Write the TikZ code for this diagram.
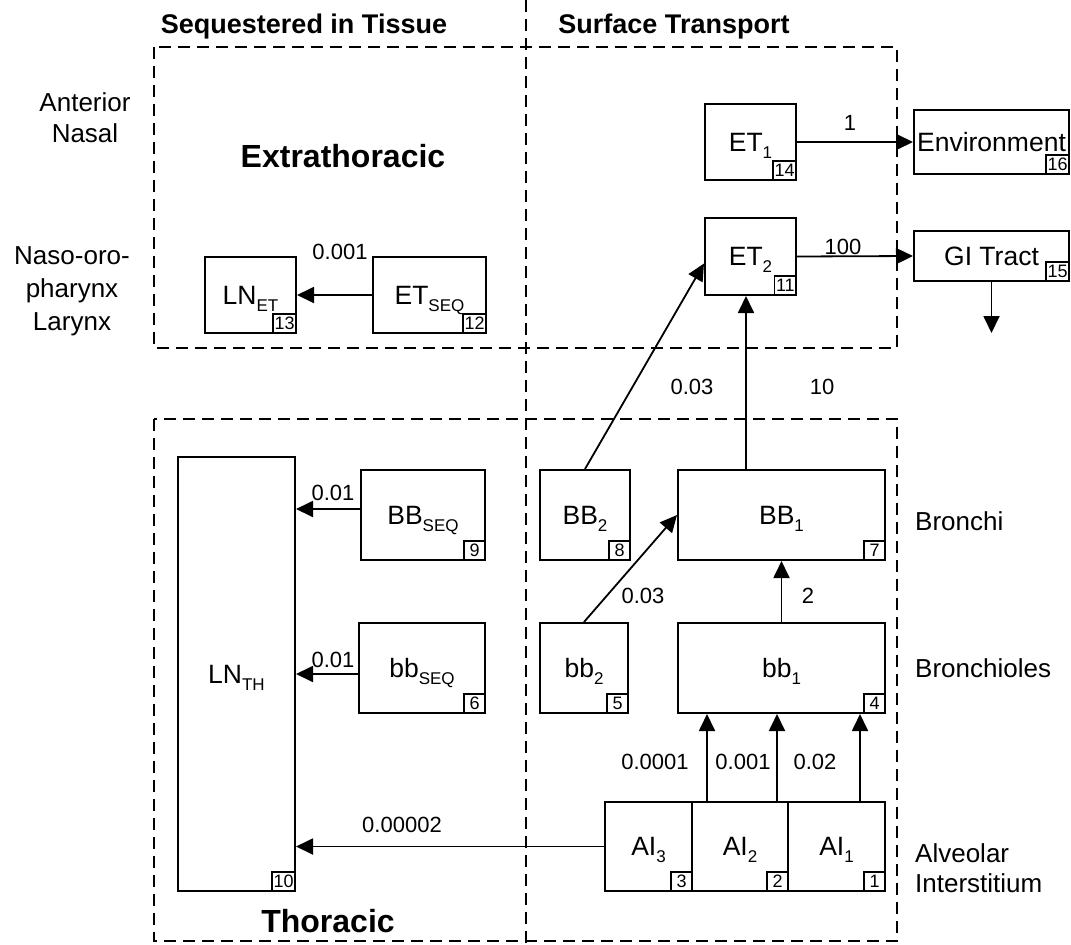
\documentclass[tikz,border=0pt]{standalone}
\usepackage{fontspec}
\setmainfont{Liberation Sans}
\usetikzlibrary{arrows.meta,calc}
\newcommand{\sbs}[1]{\raisebox{-7pt}[0pt][0pt]{\fontsize{17}{17}\selectfont #1}}
\begin{document}
\begin{tikzpicture}[x=1pt,y=-1pt,
  box/.style={draw, line width=2pt, inner sep=0pt, font=\fontsize{26.5}{30}\selectfont},
  tag/.style={draw, line width=1.6pt, fill=white, inner xsep=1.5pt, inner ysep=0pt,
    minimum height=19pt, minimum width=21pt, font=\fontsize{18}{18}\selectfont, anchor=south east},
  region/.style={draw, dash pattern=on 12pt off 7pt, line width=1.8pt},
  arr/.style={-{Triangle[length=17pt,width=16pt]}, line width=1.8pt},
  lbl/.style={font=\fontsize{22}{22}\selectfont, inner sep=0pt},
  side/.style={font=\fontsize{26}{31}\selectfont, inner sep=0pt},
  head/.style={font=\bfseries\fontsize{27}{27}\selectfont, inner sep=0pt, anchor=base},
  big/.style={font=\bfseries\fontsize{32}{32}\selectfont, inner sep=0pt, anchor=base}
]
\useasboundingbox (0,0) rectangle (1071,945);

% regions
\draw[region] (154,47) rectangle (897,348);
\draw[region] (154,419) rectangle (897,941);
\draw[region] (526,0) -- (526,945);

% headings
\node[head] (hseq) at (304,33) {Sequestered in Tissue};
\node[head] (hsur) at (674,33) {Surface Transport};
\node[big] (hext) at (343,167) {Extrathoracic};
\node[big] (htho) at (328,932) {Thoracic};

% side labels
\node[side, align=center] (san) at (85,118) {Anterior\\Nasal};
\node[side, align=center, font=\fontsize{26}{33}\selectfont] (snaso) at (72,291) {Naso-oro-\\pharynx\\Larynx};
\node[side, anchor=west] (sbr) at (915,521) {Bronchi};
\node[side, anchor=west] (sbrl) at (915,668) {Bronchioles};
\node[side, anchor=west, align=left, font=\fontsize{26}{30}\selectfont] (sal) at (915,868) {Alveolar\\Interstitium};

% compartments
\node[box, minimum width=91pt, minimum height=76pt] (LNET) at (250.5,295) {LN\sbs{ET}};
\node[box, minimum width=113pt, minimum height=76pt] (ETSEQ) at (429.5,295) {ET\sbs{SEQ}};
\node[box, minimum width=91pt, minimum height=76pt] (ET1) at (750.5,142) {ET\sbs{1}};
\node[box, minimum width=91pt, minimum height=77pt] (ET2) at (750.5,256.5) {ET\sbs{2}};
\node[box, minimum width=155pt, minimum height=64pt] (Env) at (991.5,142) {Environment};
\node[box, minimum width=155pt, minimum height=50pt] (GI) at (991.5,256) {GI Tract};
\node[box, minimum width=117pt, minimum height=434pt] (LNTH) at (236.5,674) {LN\sbs{TH}};
\node[box, minimum width=124pt, minimum height=90pt] (BBSEQ) at (423,515) {BB\sbs{SEQ}};
\node[box, minimum width=126pt, minimum height=90pt] (bbSEQ) at (422,668) {bb\sbs{SEQ}};
\node[box, minimum width=90pt, minimum height=90pt] (BB2) at (585,515) {BB\sbs{2}};
\node[box, minimum width=207pt, minimum height=90pt] (BB1) at (781.5,515) {BB\sbs{1}};
\node[box, minimum width=88pt, minimum height=90pt] (bb2) at (584,668) {bb\sbs{2}};
\node[box, minimum width=207pt, minimum height=90pt] (bb1) at (781.5,668) {bb\sbs{1}};
\node[box, minimum width=87pt, minimum height=89pt] (AI3) at (648.5,846.5) {AI\sbs{3}};
\node[box, minimum width=96pt, minimum height=89pt] (AI2) at (740,846.5) {AI\sbs{2}};
\node[box, minimum width=97pt, minimum height=89pt] (AI1) at (836.5,846.5) {AI\sbs{1}};

% number tags
\node[tag] (t1) at (AI1.south east) {1};
\node[tag] (t2) at (AI2.south east) {2};
\node[tag] (t3) at (AI3.south east) {3};
\node[tag] (t4) at (bb1.south east) {4};
\node[tag] (t5) at (bb2.south east) {5};
\node[tag] (t6) at (bbSEQ.south east) {6};
\node[tag] (t7) at (BB1.south east) {7};
\node[tag] (t8) at (BB2.south east) {8};
\node[tag] (t9) at (BBSEQ.south east) {9};
\node[tag] (t10) at (LNTH.south east) {10};
\node[tag] (t11) at (ET2.south east) {11};
\node[tag] (t12) at (ETSEQ.south east) {12};
\node[tag] (t13) at (LNET.south east) {13};
\node[tag] (t14) at (ET1.south east) {14};
\node[tag] (t15) at (GI.south east) {15};
\node[tag] (t16) at (Env.south east) {16};

% helper coordinates
\coordinate (c10) at (746,0);
\coordinate (x1) at (707,0);
\coordinate (x2) at (777,0);
\coordinate (x3) at (860,0);
\coordinate (gio) at (0,333);
\coordinate (s9) at ($(BBSEQ.west)+(0,-6)$);
\coordinate (s6) at ($(bbSEQ.west)+(0,6)$);
\coordinate (e2) at ($(ET2.west)+(0,7)$);

% connectors
\draw[arr] (ETSEQ.west) -- (LNET.east);
\draw[arr] (ET1.east) -- (Env.west);
\draw[arr] (ET2.east) -- (GI.west);
\draw[arr] (GI.south) -- (GI.south |- gio);
\draw[arr] (BB2.north) -- (e2);
\draw[arr] (BB1.north -| c10) -- (ET2.south -| c10);
\draw[arr] (bb2.north) -- (BB1.west);
\draw[arr] (bb1.north) -- (BB1.south);
\draw[arr] (AI2.north -| x1) -- (bb1.south -| x1);
\draw[arr] (AI2.north -| x2) -- (bb1.south -| x2);
\draw[arr] (AI1.north -| x3) -- (bb1.south -| x3);
\draw[arr] (AI3.west) -- (AI3.west -| LNTH.east);
\draw[arr] (s9) -- (s9 -| LNTH.east);
\draw[arr] (s6) -- (s6 -| LNTH.east);

% rate labels
\node[lbl] (r1) at (850,123) {1};
\node[lbl] (r100) at (843,247) {100};
\node[lbl] (r0001a) at (340,252) {0.001};
\node[lbl] (r001a) at (333,493) {0.01};
\node[lbl] (r001b) at (333,660) {0.01};
\node[lbl] (r2e5) at (402,825) {0.00002};
\node[lbl] (r1e4) at (655,762) {0.0001};
\node[lbl] (r0001b) at (743,762) {0.001};
\node[lbl] (r002) at (815,762) {0.02};
\node[lbl] (r2) at (808,596) {2};
\node[lbl] (r003a) at (643,596) {0.03};
\node[lbl] (r003b) at (692,387) {0.03};
\node[lbl] (r10) at (822,387) {10};
\end{tikzpicture}
\end{document}
